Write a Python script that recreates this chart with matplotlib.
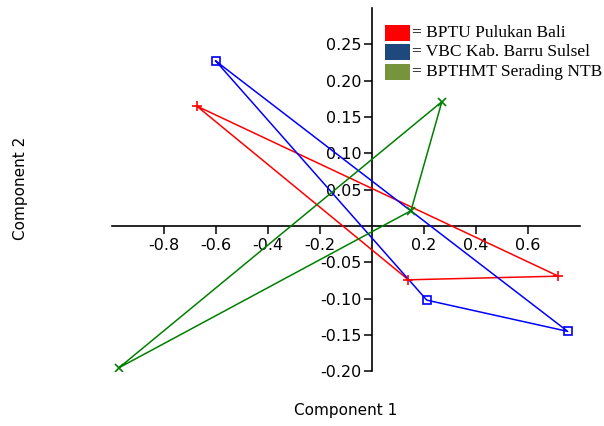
import matplotlib
matplotlib.use("Agg")
import matplotlib.pyplot as plt
from matplotlib.patches import Rectangle

# Data (component scores)
bptu_x = [-0.673, 0.718, 0.141]
bptu_y = [0.165, -0.069, -0.074]
vbc_x = [-0.600, 0.754, 0.212]
vbc_y = [0.227, -0.145, -0.102]
ntb_x = [-0.972, 0.270, 0.151]
ntb_y = [-0.195, 0.171, 0.021]

series_names = ["= BPTU Pulukan Bali", "= VBC Kab. Barru Sulsel", "= BPTHMT Serading NTB"]
legend_colors = ["#ff0000", "#1f497d", "#77933c"]

x_ticks = [-0.8, -0.6, -0.4, -0.2, 0.2, 0.4, 0.6]
x_tick_labels = ["-0.8", "-0.6", "-0.4", "-0.2", "0.2", "0.4", "0.6"]
y_ticks = [-0.20, -0.15, -0.10, -0.05, 0.05, 0.10, 0.15, 0.20, 0.25]
y_tick_labels = ["-0.20", "-0.15", "-0.10", "-0.05", "0.05", "0.10", "0.15", "0.20", "0.25"]

W, H = 604, 426
fig = plt.figure(figsize=(W / 100, H / 100), dpi=100)
ax = fig.add_axes([111.7 / W, (H - 371.4) / H, 468 / W, 363.5 / H])
ax.set_xlim(-1.0, 0.8)
ax.set_ylim(-0.20, 0.30)


def closed(v):
    return list(v) + [v[0]]


ax.plot(closed(bptu_x), closed(bptu_y), color="#ff0000", lw=1.1, zorder=3)
ax.plot(bptu_x, bptu_y, ls="none", marker="+", ms=6.5, mew=1.2, color="#ff0000", zorder=4)
ax.plot(closed(vbc_x), closed(vbc_y), color="#0000ff", lw=1.1, zorder=3)
ax.plot(vbc_x, vbc_y, ls="none", marker="s", ms=6, mew=1.2, mfc="none", color="#0000ff", zorder=4)
ax.plot(closed(ntb_x), closed(ntb_y), color="#008000", lw=1.1, zorder=3)
ax.plot(ntb_x, ntb_y, ls="none", marker="x", ms=6, mew=1.2, color="#008000", zorder=4)

for s in ["top", "right"]:
    ax.spines[s].set_visible(False)
ax.spines["left"].set_position(("data", 0))
ax.spines["bottom"].set_position(("data", 0))
ax.spines["left"].set_linewidth(1.2)
ax.spines["bottom"].set_linewidth(1.2)
ax.patch.set_visible(False)

ax.set_xticks(x_ticks)
ax.set_xticklabels(x_tick_labels)
ax.set_yticks(y_ticks)
ax.set_yticklabels(y_tick_labels)
ax.tick_params(axis="x", direction="out", length=5.5, width=1.1, pad=3.5, labelsize=11.5)
ax.tick_params(axis="y", direction="out", length=6, width=1.1, pad=1.5, labelsize=11.5)

fig.text(346 / W, 1 - 410 / H, "Component 1", ha="center", va="center", fontsize=11)
fig.text(21 / W, 1 - 188 / H, "Component 2", ha="center", va="center", rotation=90, fontsize=11)

# Legend (manual)
row_centers = [33, 52, 71.5]
for name, col, yc in zip(series_names, legend_colors, row_centers):
    fig.add_artist(Rectangle((385 / W, 1 - (yc + 8) / H), 25 / W, 16 / H,
                             transform=fig.transFigure, facecolor=col, edgecolor="none"))
    fig.text(412 / W, 1 - yc / H, name, ha="left", va="center", fontsize=12.5,
             family="Liberation Serif")

fig.savefig("out.png", dpi=100)
